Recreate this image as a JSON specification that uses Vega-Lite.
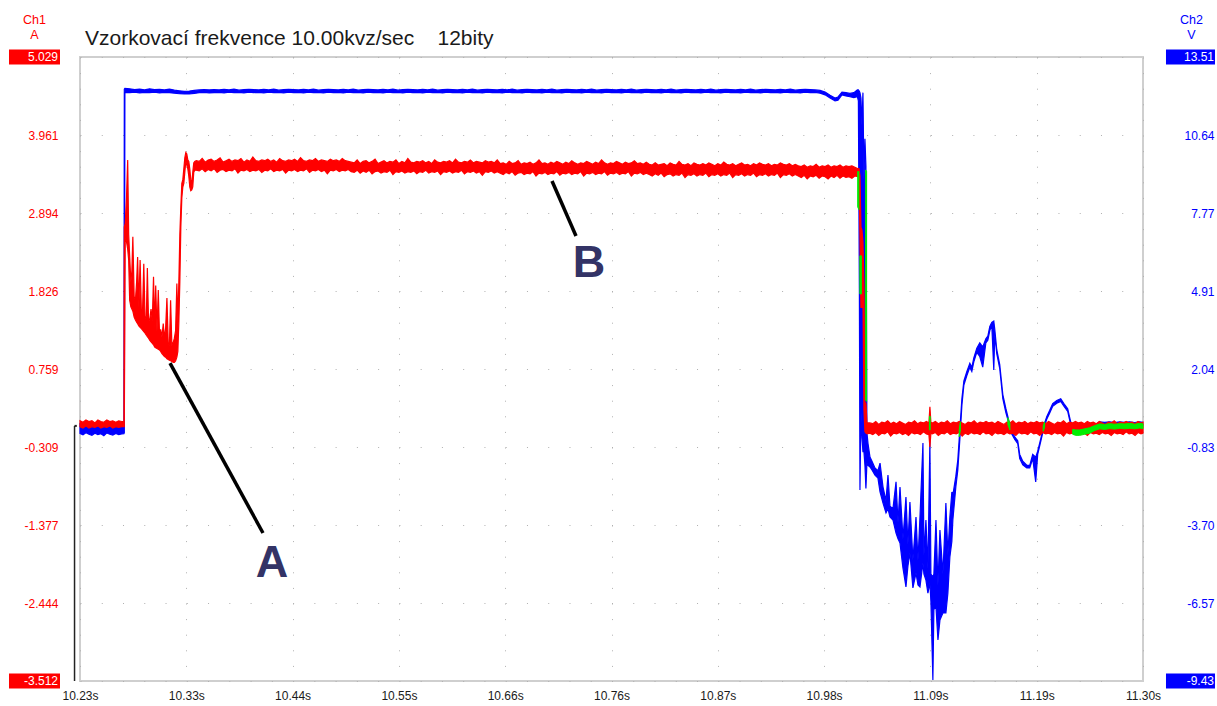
{
"$schema": "https://vega.github.io/schema/vega-lite/v6.json",
"width": 1063, "height": 624,
"autosize": {"type": "none"},
"padding": {"left": 80, "top": 57, "right": 74, "bottom": 25},
"background": "white",
"config": {"view": {"stroke": "#cfcfcf", "strokeWidth": 2}, "font": "Liberation Sans"},
"title": {"text": "Vzorkovací frekvence 10.00kvz/sec\u00a0\u00a0\u00a0\u00a012bity", "anchor": "start", "frame": "group", "font": "Liberation Sans", "fontSize": 21, "fontWeight": "normal", "color": "#1a1a1a", "baseline": "alphabetic", "offset": 0, "dx": 5, "dy": 53},
"resolve": {"scale": {"y": "independent"}},
"datasets": {
"blue": [
{"t":10.230,"lo":-0.33,"hi":0.02},{"t":10.233,"lo":-0.38,"hi":-0.02},{"t":10.236,"lo":-0.30,"hi":0.05},{"t":10.239,"lo":-0.36,"hi":0.00},{"t":10.242,"lo":-0.40,"hi":0.03},{"t":10.245,"lo":-0.32,"hi":-0.01},{"t":10.248,"lo":-0.37,"hi":0.04},{"t":10.251,"lo":-0.34,"hi":0.01},{"t":10.254,"lo":-0.41,"hi":0.02},{"t":10.257,"lo":-0.31,"hi":0.06},{"t":10.260,"lo":-0.36,"hi":-0.01},{"t":10.263,"lo":-0.39,"hi":0.03},{"t":10.266,"lo":-0.33,"hi":0.00},{"t":10.269,"lo":-0.37,"hi":0.04},{"t":10.272,"lo":-0.35,"hi":0.01},{"t":10.2742,"lo":-0.34,"hi":0.02},
{"t":10.2746,"lo":-0.30,"hi":12.33},{"t":10.2752,"lo":12.20,"hi":12.36},
{"t":10.280,"lo":12.20,"hi":12.34},{"t":10.285,"lo":12.22,"hi":12.31},{"t":10.290,"lo":12.19,"hi":12.33},{"t":10.295,"lo":12.21,"hi":12.30},{"t":10.300,"lo":12.20,"hi":12.34},{"t":10.305,"lo":12.22,"hi":12.31},{"t":10.310,"lo":12.19,"hi":12.32},{"t":10.315,"lo":12.21,"hi":12.30},{"t":10.320,"lo":12.20,"hi":12.33},{"t":10.325,"lo":12.18,"hi":12.29},{"t":10.330,"lo":12.16,"hi":12.27},{"t":10.335,"lo":12.15,"hi":12.25},{"t":10.340,"lo":12.15,"hi":12.26},{"t":10.345,"lo":12.17,"hi":12.28},{"t":10.350,"lo":12.20,"hi":12.30},{"t":10.355,"lo":12.21,"hi":12.31},{"t":10.360,"lo":12.19,"hi":12.30},
{"t":10.365,"lo":12.20,"hi":12.31},{"t":10.370,"lo":12.21,"hi":12.30},{"t":10.375,"lo":12.19,"hi":12.32},{"t":10.380,"lo":12.22,"hi":12.30},{"t":10.385,"lo":12.20,"hi":12.33},{"t":10.390,"lo":12.21,"hi":12.29},{"t":10.395,"lo":12.19,"hi":12.31},{"t":10.400,"lo":12.22,"hi":12.32},
{"t":10.405,"lo":12.20,"hi":12.31},{"t":10.410,"lo":12.21,"hi":12.30},{"t":10.415,"lo":12.19,"hi":12.32},{"t":10.420,"lo":12.22,"hi":12.30},{"t":10.425,"lo":12.20,"hi":12.33},{"t":10.430,"lo":12.21,"hi":12.29},{"t":10.435,"lo":12.19,"hi":12.31},{"t":10.440,"lo":12.22,"hi":12.32},
{"t":10.445,"lo":12.20,"hi":12.31},{"t":10.450,"lo":12.21,"hi":12.30},{"t":10.455,"lo":12.19,"hi":12.32},{"t":10.460,"lo":12.22,"hi":12.30},{"t":10.465,"lo":12.20,"hi":12.33},{"t":10.470,"lo":12.21,"hi":12.29},{"t":10.475,"lo":12.19,"hi":12.31},{"t":10.480,"lo":12.22,"hi":12.32},
{"t":10.485,"lo":12.20,"hi":12.31},{"t":10.490,"lo":12.21,"hi":12.30},{"t":10.495,"lo":12.19,"hi":12.32},{"t":10.500,"lo":12.22,"hi":12.30},{"t":10.505,"lo":12.20,"hi":12.33},{"t":10.510,"lo":12.21,"hi":12.29},{"t":10.515,"lo":12.19,"hi":12.31},{"t":10.520,"lo":12.22,"hi":12.32},
{"t":10.525,"lo":12.20,"hi":12.31},{"t":10.530,"lo":12.21,"hi":12.30},{"t":10.535,"lo":12.19,"hi":12.32},{"t":10.540,"lo":12.22,"hi":12.30},{"t":10.545,"lo":12.20,"hi":12.33},{"t":10.550,"lo":12.21,"hi":12.29},{"t":10.555,"lo":12.19,"hi":12.31},{"t":10.560,"lo":12.22,"hi":12.32},
{"t":10.565,"lo":12.20,"hi":12.31},{"t":10.570,"lo":12.21,"hi":12.30},{"t":10.575,"lo":12.19,"hi":12.32},{"t":10.580,"lo":12.22,"hi":12.30},{"t":10.585,"lo":12.20,"hi":12.33},{"t":10.590,"lo":12.21,"hi":12.29},{"t":10.595,"lo":12.19,"hi":12.31},{"t":10.600,"lo":12.22,"hi":12.32},
{"t":10.605,"lo":12.20,"hi":12.31},{"t":10.610,"lo":12.21,"hi":12.30},{"t":10.615,"lo":12.19,"hi":12.32},{"t":10.620,"lo":12.22,"hi":12.30},{"t":10.625,"lo":12.20,"hi":12.33},{"t":10.630,"lo":12.21,"hi":12.29},{"t":10.635,"lo":12.19,"hi":12.31},{"t":10.640,"lo":12.22,"hi":12.32},
{"t":10.645,"lo":12.20,"hi":12.31},{"t":10.650,"lo":12.21,"hi":12.30},{"t":10.655,"lo":12.19,"hi":12.32},{"t":10.660,"lo":12.22,"hi":12.30},{"t":10.665,"lo":12.20,"hi":12.33},{"t":10.670,"lo":12.21,"hi":12.29},{"t":10.675,"lo":12.19,"hi":12.31},{"t":10.680,"lo":12.22,"hi":12.32},
{"t":10.685,"lo":12.20,"hi":12.31},{"t":10.690,"lo":12.21,"hi":12.30},{"t":10.695,"lo":12.19,"hi":12.32},{"t":10.700,"lo":12.22,"hi":12.30},{"t":10.705,"lo":12.20,"hi":12.33},{"t":10.710,"lo":12.21,"hi":12.29},{"t":10.715,"lo":12.19,"hi":12.31},{"t":10.720,"lo":12.22,"hi":12.32},
{"t":10.725,"lo":12.20,"hi":12.31},{"t":10.730,"lo":12.21,"hi":12.30},{"t":10.735,"lo":12.19,"hi":12.32},{"t":10.740,"lo":12.22,"hi":12.30},{"t":10.745,"lo":12.20,"hi":12.33},{"t":10.750,"lo":12.21,"hi":12.29},{"t":10.755,"lo":12.19,"hi":12.31},{"t":10.760,"lo":12.22,"hi":12.32},
{"t":10.765,"lo":12.20,"hi":12.31},{"t":10.770,"lo":12.21,"hi":12.30},{"t":10.775,"lo":12.19,"hi":12.32},{"t":10.780,"lo":12.22,"hi":12.30},{"t":10.785,"lo":12.20,"hi":12.33},{"t":10.790,"lo":12.21,"hi":12.29},{"t":10.795,"lo":12.19,"hi":12.31},{"t":10.800,"lo":12.22,"hi":12.32},
{"t":10.805,"lo":12.20,"hi":12.31},{"t":10.810,"lo":12.21,"hi":12.30},{"t":10.815,"lo":12.19,"hi":12.32},{"t":10.820,"lo":12.22,"hi":12.30},{"t":10.825,"lo":12.20,"hi":12.33},{"t":10.830,"lo":12.21,"hi":12.29},{"t":10.835,"lo":12.19,"hi":12.31},{"t":10.840,"lo":12.22,"hi":12.32},
{"t":10.845,"lo":12.20,"hi":12.31},{"t":10.850,"lo":12.21,"hi":12.30},{"t":10.855,"lo":12.19,"hi":12.32},{"t":10.860,"lo":12.22,"hi":12.30},{"t":10.865,"lo":12.20,"hi":12.33},{"t":10.870,"lo":12.21,"hi":12.29},{"t":10.875,"lo":12.19,"hi":12.31},{"t":10.880,"lo":12.22,"hi":12.32},
{"t":10.885,"lo":12.20,"hi":12.31},{"t":10.890,"lo":12.21,"hi":12.30},{"t":10.895,"lo":12.19,"hi":12.32},{"t":10.900,"lo":12.22,"hi":12.30},{"t":10.905,"lo":12.20,"hi":12.33},{"t":10.910,"lo":12.21,"hi":12.29},{"t":10.915,"lo":12.19,"hi":12.31},{"t":10.920,"lo":12.22,"hi":12.32},
{"t":10.925,"lo":12.20,"hi":12.31},{"t":10.930,"lo":12.21,"hi":12.30},{"t":10.935,"lo":12.19,"hi":12.32},{"t":10.940,"lo":12.22,"hi":12.30},{"t":10.945,"lo":12.20,"hi":12.33},{"t":10.950,"lo":12.21,"hi":12.29},{"t":10.955,"lo":12.19,"hi":12.31},{"t":10.960,"lo":12.22,"hi":12.32},
{"t":10.965,"lo":12.20,"hi":12.31},{"t":10.970,"lo":12.21,"hi":12.30},
{"t":10.975,"lo":12.18,"hi":12.28},{"t":10.980,"lo":12.12,"hi":12.22},{"t":10.985,"lo":12.00,"hi":12.10},{"t":10.990,"lo":11.90,"hi":12.00},{"t":10.993,"lo":11.92,"hi":12.04},{"t":10.997,"lo":12.12,"hi":12.22},{"t":11.001,"lo":12.08,"hi":12.20},{"t":11.005,"lo":12.05,"hi":12.17},{"t":11.009,"lo":12.02,"hi":12.20},{"t":11.0125,"lo":12.05,"hi":12.30},
{"t":11.0135,"lo":11.90,"hi":12.30},{"t":11.0145,"lo":5.0,"hi":12.25},{"t":11.0151,"lo":-2.41,"hi":12.20},{"t":11.0161,"lo":0.50,"hi":12.00},{"t":11.0171,"lo":-0.50,"hi":11.00},{"t":11.0181,"lo":-1.00,"hi":12.20},{"t":11.0191,"lo":-1.00,"hi":9.00},{"t":11.0201,"lo":-1.50,"hi":10.50},{"t":11.0211,"lo":-2.35,"hi":9.50},{"t":11.0221,"lo":-1.42,"hi":-0.30},
{"t":11.0232,"lo":-1.50,"hi":-0.70},{"t":11.0252,"lo":-1.56,"hi":-1.20},{"t":11.0272,"lo":-1.67,"hi":-1.35},{"t":11.0302,"lo":-1.86,"hi":-1.60},{"t":11.0332,"lo":-1.97,"hi":-1.70},{"t":11.0353,"lo":-2.48,"hi":-1.42},{"t":11.0383,"lo":-2.89,"hi":-2.30},{"t":11.0413,"lo":-3.25,"hi":-2.80},{"t":11.0433,"lo":-3.10,"hi":-1.86},{"t":11.0453,"lo":-3.40,"hi":-3.00},{"t":11.0483,"lo":-3.51,"hi":-3.10},{"t":11.0514,"lo":-3.99,"hi":-2.11},{"t":11.0534,"lo":-4.20,"hi":-3.60},{"t":11.0554,"lo":-4.36,"hi":-2.30},{"t":11.0584,"lo":-5.28,"hi":-4.20},{"t":11.0614,"lo":-5.97,"hi":-2.67},{"t":11.0634,"lo":-5.20,"hi":-4.40},{"t":11.0654,"lo":-4.72,"hi":-2.85},{"t":11.0684,"lo":-6.01,"hi":-4.98},{"t":11.0715,"lo":-5.46,"hi":-3.40},{"t":11.0735,"lo":-5.90,"hi":-5.00},{"t":11.0755,"lo":-5.97,"hi":-3.40},{"t":11.0785,"lo":-5.09,"hi":-0.68},{"t":11.0795,"lo":-5.50,"hi":-4.80},{"t":11.0815,"lo":-5.72,"hi":-3.51},{"t":11.0835,"lo":-6.20,"hi":-5.30},{"t":11.0855,"lo":-5.83,"hi":-0.57},{"t":11.0865,"lo":-6.50,"hi":-5.50},{"t":11.0885,"lo":-9.39,"hi":-5.60},{"t":11.0895,"lo":-6.80,"hi":-5.50},{"t":11.0916,"lo":-6.71,"hi":-3.51},{"t":11.0936,"lo":-7.92,"hi":-5.90},{"t":11.0956,"lo":-7.19,"hi":-3.88},{"t":11.0986,"lo":-6.93,"hi":-5.50},{"t":11.1016,"lo":-6.93,"hi":-2.89},{"t":11.1036,"lo":-6.20,"hi":-4.80},{"t":11.1056,"lo":-4.87,"hi":-3.40},{"t":11.1076,"lo":-4.30,"hi":-2.48},{"t":11.1086,"lo":-3.51,"hi":-2.60},{"t":11.1116,"lo":-2.30,"hi":-1.90},{"t":11.1136,"lo":-1.67,"hi":-1.30},{"t":11.1156,"lo":-0.57,"hi":-0.20},
{"t":11.1177,"lo":0.70,"hi":0.95},{"t":11.1197,"lo":1.45,"hi":1.60},{"t":11.1227,"lo":1.80,"hi":1.95},{"t":11.1257,"lo":2.10,"hi":2.25},{"t":11.1277,"lo":1.95,"hi":2.10},{"t":11.1297,"lo":2.30,"hi":2.45},{"t":11.1327,"lo":2.65,"hi":2.80},{"t":11.1357,"lo":2.50,"hi":3.00},{"t":11.1387,"lo":2.11,"hi":2.85},{"t":11.1418,"lo":3.00,"hi":3.15},{"t":11.1438,"lo":3.10,"hi":3.25},{"t":11.1458,"lo":3.45,"hi":3.60},{"t":11.1478,"lo":3.65,"hi":3.75},{"t":11.1498,"lo":2.00,"hi":3.80},{"t":11.1508,"lo":3.30,"hi":3.50},{"t":11.1528,"lo":2.60,"hi":2.75},{"t":11.1558,"lo":2.05,"hi":2.20},{"t":11.1589,"lo":0.95,"hi":1.10},{"t":11.1619,"lo":0.45,"hi":0.60},{"t":11.1649,"lo":0.05,"hi":0.15},{"t":11.1679,"lo":-0.35,"hi":-0.25},{"t":11.1709,"lo":-0.55,"hi":-0.45},{"t":11.1739,"lo":-0.70,"hi":-0.60},{"t":11.1759,"lo":-1.25,"hi":-1.10},{"t":11.1790,"lo":-1.48,"hi":-1.35},{"t":11.1830,"lo":-1.60,"hi":-1.50},{"t":11.1860,"lo":-1.60,"hi":-1.50},{"t":11.1890,"lo":-1.25,"hi":-1.10},{"t":11.1920,"lo":-2.11,"hi":-1.20},{"t":11.1940,"lo":-1.10,"hi":-0.98},{"t":11.1971,"lo":-0.62,"hi":-0.52},{"t":11.2001,"lo":-0.14,"hi":-0.04},{"t":11.2031,"lo":0.19,"hi":0.29},{"t":11.2061,"lo":0.42,"hi":0.52},{"t":11.2091,"lo":0.67,"hi":0.77},{"t":11.2132,"lo":0.78,"hi":0.88},{"t":11.2172,"lo":0.85,"hi":0.95},{"t":11.2202,"lo":0.68,"hi":0.78},{"t":11.2242,"lo":0.48,"hi":0.58},{"t":11.2272,"lo":0.00,"hi":0.10},{"t":11.2292,"lo":-0.26,"hi":-0.16},{"t":11.2323,"lo":-0.36,"hi":-0.26},{"t":11.2363,"lo":-0.36,"hi":-0.26},{"t":11.2413,"lo":-0.28,"hi":-0.18},{"t":11.2463,"lo":-0.25,"hi":-0.15},{"t":11.2514,"lo":-0.14,"hi":-0.04},{"t":11.2564,"lo":0.00,"hi":0.10},{"t":11.2614,"lo":-0.02,"hi":0.08},{"t":11.2664,"lo":0.00,"hi":0.10},{"t":11.2715,"lo":-0.03,"hi":0.07},{"t":11.2765,"lo":0.00,"hi":0.10},{"t":11.2815,"lo":-0.02,"hi":0.08},{"t":11.2866,"lo":0.00,"hi":0.10},{"t":11.2916,"lo":-0.03,"hi":0.07},{"t":11.2966,"lo":0.00,"hi":0.10},{"t":11.2996,"lo":-0.02,"hi":0.08}
],
"red": [
{"t":10.230,"lo":-0.03,"hi":0.05},{"t":10.233,"lo":-0.05,"hi":0.03},{"t":10.236,"lo":-0.02,"hi":0.06},{"t":10.239,"lo":-0.05,"hi":0.04},{"t":10.242,"lo":-0.03,"hi":0.05},{"t":10.245,"lo":-0.04,"hi":0.02},{"t":10.248,"lo":-0.02,"hi":0.06},{"t":10.251,"lo":-0.05,"hi":0.04},{"t":10.254,"lo":-0.03,"hi":0.03},{"t":10.257,"lo":-0.04,"hi":0.06},{"t":10.260,"lo":-0.02,"hi":0.04},{"t":10.263,"lo":-0.05,"hi":0.05},{"t":10.266,"lo":-0.03,"hi":0.03},{"t":10.269,"lo":-0.04,"hi":0.05},{"t":10.272,"lo":-0.03,"hi":0.04},{"t":10.2742,"lo":-0.03,"hi":0.04},
{"t":10.2746,"lo":-0.03,"hi":2.70},{"t":10.2755,"lo":2.55,"hi":2.75},{"t":10.2768,"lo":2.50,"hi":3.10},{"t":10.2780,"lo":2.40,"hi":3.62},{"t":10.2790,"lo":2.25,"hi":2.60},{"t":10.2800,"lo":1.70,"hi":2.30},{"t":10.2812,"lo":1.61,"hi":1.95},{"t":10.2822,"lo":1.58,"hi":2.10},{"t":10.2832,"lo":1.55,"hi":2.57},{"t":10.2845,"lo":1.47,"hi":1.75},{"t":10.2858,"lo":1.43,"hi":1.70},{"t":10.2870,"lo":1.40,"hi":1.95},{"t":10.2880,"lo":1.38,"hi":2.29},{"t":10.2892,"lo":1.35,"hi":1.60},{"t":10.2905,"lo":1.33,"hi":2.25},{"t":10.2918,"lo":1.31,"hi":1.55},{"t":10.2930,"lo":1.29,"hi":1.58},{"t":10.2942,"lo":1.27,"hi":2.20},{"t":10.2955,"lo":1.25,"hi":1.45},{"t":10.2968,"lo":1.22,"hi":1.48},{"t":10.2978,"lo":1.20,"hi":2.14},{"t":10.2990,"lo":1.18,"hi":1.40},{"t":10.3003,"lo":1.15,"hi":1.45},{"t":10.3015,"lo":1.13,"hi":1.58},{"t":10.3028,"lo":1.11,"hi":1.42},{"t":10.3040,"lo":1.09,"hi":2.02},{"t":10.3052,"lo":1.06,"hi":1.32},{"t":10.3062,"lo":1.05,"hi":1.90},{"t":10.3075,"lo":1.04,"hi":1.28},{"t":10.3088,"lo":1.03,"hi":1.84},{"t":10.3100,"lo":1.02,"hi":1.25},{"t":10.3112,"lo":1.00,"hi":1.30},{"t":10.3125,"lo":0.97,"hi":1.20},{"t":10.3138,"lo":0.95,"hi":1.38},{"t":10.3150,"lo":0.93,"hi":1.18},{"t":10.3162,"lo":0.92,"hi":1.32},{"t":10.3175,"lo":0.90,"hi":1.73},{"t":10.3188,"lo":0.89,"hi":1.12},{"t":10.3200,"lo":0.88,"hi":1.08},{"t":10.3212,"lo":0.87,"hi":1.70},{"t":10.3225,"lo":0.86,"hi":1.08},{"t":10.3238,"lo":0.85,"hi":1.12},{"t":10.3250,"lo":0.85,"hi":1.18},{"t":10.3262,"lo":0.87,"hi":1.28},{"t":10.3275,"lo":0.92,"hi":1.93},{"t":10.3285,"lo":1.00,"hi":1.40},{"t":10.3295,"lo":1.40,"hi":1.95},{"t":10.3305,"lo":1.95,"hi":2.60},{"t":10.3315,"lo":2.70,"hi":2.98},{"t":10.3325,"lo":3.10,"hi":3.30},{"t":10.3335,"lo":3.25,"hi":3.35},{"t":10.3345,"lo":3.30,"hi":3.50},{"t":10.3355,"lo":3.45,"hi":3.65},{"t":10.3365,"lo":3.60,"hi":3.72},{"t":10.3375,"lo":3.55,"hi":3.70},{"t":10.3385,"lo":3.50,"hi":3.62},{"t":10.3395,"lo":3.40,"hi":3.60},{"t":10.3405,"lo":3.25,"hi":3.50},{"t":10.3415,"lo":3.20,"hi":3.35},{"t":10.3425,"lo":3.21,"hi":3.30},{"t":10.3435,"lo":3.25,"hi":3.45},{"t":10.3445,"lo":3.45,"hi":3.58},{"t":10.3455,"lo":3.48,"hi":3.60},
{"t":10.347,"lo":3.48,"hi":3.61},{"t":10.350,"lo":3.47,"hi":3.60},{"t":10.353,"lo":3.50,"hi":3.64},{"t":10.356,"lo":3.46,"hi":3.59},{"t":10.359,"lo":3.49,"hi":3.62},{"t":10.362,"lo":3.47,"hi":3.63},{"t":10.365,"lo":3.50,"hi":3.60},{"t":10.368,"lo":3.45,"hi":3.62},{"t":10.371,"lo":3.48,"hi":3.65},{"t":10.374,"lo":3.49,"hi":3.59},{"t":10.377,"lo":3.46,"hi":3.61},{"t":10.380,"lo":3.48,"hi":3.63},{"t":10.383,"lo":3.47,"hi":3.60},{"t":10.386,"lo":3.50,"hi":3.62},{"t":10.389,"lo":3.44,"hi":3.61},{"t":10.392,"lo":3.48,"hi":3.64},{"t":10.395,"lo":3.47,"hi":3.59},{"t":10.398,"lo":3.49,"hi":3.62},{"t":10.401,"lo":3.46,"hi":3.60},{"t":10.404,"lo":3.48,"hi":3.66},{"t":10.407,"lo":3.47,"hi":3.61},{"t":10.410,"lo":3.49,"hi":3.60},{"t":10.413,"lo":3.45,"hi":3.62},{"t":10.416,"lo":3.48,"hi":3.61},{"t":10.419,"lo":3.47,"hi":3.63},{"t":10.422,"lo":3.50,"hi":3.60},{"t":10.425,"lo":3.46,"hi":3.62},{"t":10.428,"lo":3.48,"hi":3.59},{"t":10.431,"lo":3.47,"hi":3.64},{"t":10.434,"lo":3.49,"hi":3.61},{"t":10.437,"lo":3.44,"hi":3.60},{"t":10.440,"lo":3.48,"hi":3.62},{"t":10.443,"lo":3.47,"hi":3.61},{"t":10.446,"lo":3.49,"hi":3.63},{"t":10.449,"lo":3.46,"hi":3.60},{"t":10.452,"lo":3.48,"hi":3.65},{"t":10.455,"lo":3.47,"hi":3.61},{"t":10.458,"lo":3.50,"hi":3.60},{"t":10.461,"lo":3.45,"hi":3.62},{"t":10.464,"lo":3.48,"hi":3.61},{"t":10.467,"lo":3.47,"hi":3.64},{"t":10.470,"lo":3.49,"hi":3.60},{"t":10.473,"lo":3.46,"hi":3.62},{"t":10.476,"lo":3.48,"hi":3.61},{"t":10.479,"lo":3.43,"hi":3.60},{"t":10.482,"lo":3.48,"hi":3.63},{"t":10.485,"lo":3.47,"hi":3.61},{"t":10.488,"lo":3.49,"hi":3.62},{"t":10.491,"lo":3.46,"hi":3.60},{"t":10.494,"lo":3.48,"hi":3.64},{"t":10.497,"lo":3.47,"hi":3.61},{"t":10.500,"lo":3.49,"hi":3.60},
{"t":10.503,"lo":3.46,"hi":3.59},{"t":10.506,"lo":3.45,"hi":3.58},{"t":10.509,"lo":3.48,"hi":3.62},{"t":10.512,"lo":3.44,"hi":3.57},{"t":10.515,"lo":3.47,"hi":3.60},{"t":10.518,"lo":3.45,"hi":3.61},{"t":10.521,"lo":3.48,"hi":3.58},{"t":10.524,"lo":3.43,"hi":3.60},{"t":10.527,"lo":3.46,"hi":3.63},{"t":10.530,"lo":3.47,"hi":3.57},{"t":10.533,"lo":3.44,"hi":3.59},{"t":10.536,"lo":3.46,"hi":3.61},{"t":10.539,"lo":3.45,"hi":3.58},{"t":10.542,"lo":3.48,"hi":3.60},{"t":10.545,"lo":3.42,"hi":3.59},{"t":10.548,"lo":3.46,"hi":3.62},{"t":10.551,"lo":3.45,"hi":3.57},{"t":10.554,"lo":3.47,"hi":3.60},{"t":10.557,"lo":3.44,"hi":3.58},{"t":10.560,"lo":3.46,"hi":3.64},{"t":10.563,"lo":3.45,"hi":3.59},{"t":10.566,"lo":3.47,"hi":3.58},{"t":10.569,"lo":3.43,"hi":3.60},{"t":10.572,"lo":3.46,"hi":3.59},{"t":10.575,"lo":3.45,"hi":3.61},{"t":10.578,"lo":3.48,"hi":3.58},{"t":10.581,"lo":3.44,"hi":3.60},{"t":10.584,"lo":3.46,"hi":3.57},{"t":10.587,"lo":3.45,"hi":3.62},{"t":10.590,"lo":3.47,"hi":3.59},{"t":10.593,"lo":3.42,"hi":3.58},{"t":10.596,"lo":3.46,"hi":3.60},{"t":10.599,"lo":3.45,"hi":3.59},{"t":10.602,"lo":3.47,"hi":3.61},{"t":10.605,"lo":3.44,"hi":3.58},{"t":10.608,"lo":3.46,"hi":3.63},{"t":10.611,"lo":3.45,"hi":3.59},{"t":10.614,"lo":3.48,"hi":3.58},{"t":10.617,"lo":3.43,"hi":3.60},{"t":10.620,"lo":3.46,"hi":3.59},{"t":10.623,"lo":3.45,"hi":3.62},{"t":10.626,"lo":3.47,"hi":3.58},{"t":10.629,"lo":3.44,"hi":3.60},{"t":10.632,"lo":3.46,"hi":3.59},{"t":10.635,"lo":3.41,"hi":3.58},{"t":10.638,"lo":3.46,"hi":3.61},{"t":10.641,"lo":3.45,"hi":3.59},{"t":10.644,"lo":3.47,"hi":3.60},{"t":10.647,"lo":3.44,"hi":3.58},{"t":10.650,"lo":3.46,"hi":3.62},
{"t":10.653,"lo":3.44,"hi":3.57},{"t":10.656,"lo":3.42,"hi":3.58},{"t":10.659,"lo":3.45,"hi":3.56},{"t":10.662,"lo":3.43,"hi":3.60},{"t":10.665,"lo":3.46,"hi":3.57},{"t":10.668,"lo":3.41,"hi":3.58},{"t":10.671,"lo":3.44,"hi":3.61},{"t":10.674,"lo":3.45,"hi":3.56},{"t":10.677,"lo":3.42,"hi":3.58},{"t":10.680,"lo":3.44,"hi":3.57},{"t":10.683,"lo":3.43,"hi":3.59},{"t":10.686,"lo":3.46,"hi":3.56},{"t":10.689,"lo":3.40,"hi":3.58},{"t":10.692,"lo":3.44,"hi":3.62},{"t":10.695,"lo":3.43,"hi":3.57},{"t":10.698,"lo":3.45,"hi":3.58},{"t":10.701,"lo":3.42,"hi":3.56},{"t":10.704,"lo":3.44,"hi":3.59},{"t":10.707,"lo":3.43,"hi":3.57},{"t":10.710,"lo":3.46,"hi":3.60},{"t":10.713,"lo":3.41,"hi":3.58},{"t":10.716,"lo":3.44,"hi":3.56},{"t":10.719,"lo":3.43,"hi":3.59},{"t":10.722,"lo":3.45,"hi":3.57},{"t":10.725,"lo":3.42,"hi":3.61},{"t":10.728,"lo":3.44,"hi":3.58},{"t":10.731,"lo":3.43,"hi":3.56},{"t":10.734,"lo":3.46,"hi":3.58},{"t":10.737,"lo":3.40,"hi":3.57},{"t":10.740,"lo":3.44,"hi":3.60},{"t":10.743,"lo":3.43,"hi":3.58},{"t":10.746,"lo":3.45,"hi":3.56},{"t":10.749,"lo":3.42,"hi":3.59},{"t":10.752,"lo":3.44,"hi":3.57},{"t":10.755,"lo":3.43,"hi":3.62},{"t":10.758,"lo":3.46,"hi":3.58},{"t":10.761,"lo":3.41,"hi":3.56},{"t":10.764,"lo":3.44,"hi":3.58},{"t":10.767,"lo":3.43,"hi":3.57},{"t":10.770,"lo":3.45,"hi":3.60},{"t":10.773,"lo":3.42,"hi":3.58},{"t":10.776,"lo":3.44,"hi":3.56},{"t":10.779,"lo":3.43,"hi":3.59},{"t":10.782,"lo":3.46,"hi":3.57},{"t":10.785,"lo":3.40,"hi":3.58},{"t":10.788,"lo":3.44,"hi":3.61},{"t":10.791,"lo":3.43,"hi":3.57},{"t":10.794,"lo":3.45,"hi":3.58},{"t":10.797,"lo":3.42,"hi":3.56},{"t":10.800,"lo":3.44,"hi":3.59},
{"t":10.803,"lo":3.42,"hi":3.56},{"t":10.806,"lo":3.40,"hi":3.55},{"t":10.809,"lo":3.43,"hi":3.58},{"t":10.812,"lo":3.41,"hi":3.55},{"t":10.815,"lo":3.44,"hi":3.56},{"t":10.818,"lo":3.39,"hi":3.57},{"t":10.821,"lo":3.42,"hi":3.54},{"t":10.824,"lo":3.43,"hi":3.58},{"t":10.827,"lo":3.40,"hi":3.56},{"t":10.830,"lo":3.42,"hi":3.55},{"t":10.833,"lo":3.41,"hi":3.60},{"t":10.836,"lo":3.44,"hi":3.56},{"t":10.839,"lo":3.38,"hi":3.55},{"t":10.842,"lo":3.42,"hi":3.57},{"t":10.845,"lo":3.41,"hi":3.54},{"t":10.848,"lo":3.43,"hi":3.58},{"t":10.851,"lo":3.40,"hi":3.56},{"t":10.854,"lo":3.42,"hi":3.55},{"t":10.857,"lo":3.41,"hi":3.57},{"t":10.860,"lo":3.44,"hi":3.55},{"t":10.863,"lo":3.39,"hi":3.58},{"t":10.866,"lo":3.42,"hi":3.56},{"t":10.869,"lo":3.41,"hi":3.54},{"t":10.872,"lo":3.43,"hi":3.57},{"t":10.875,"lo":3.40,"hi":3.55},{"t":10.878,"lo":3.42,"hi":3.59},{"t":10.881,"lo":3.41,"hi":3.56},{"t":10.884,"lo":3.44,"hi":3.55},{"t":10.887,"lo":3.38,"hi":3.57},{"t":10.890,"lo":3.42,"hi":3.54},{"t":10.893,"lo":3.41,"hi":3.56},{"t":10.896,"lo":3.43,"hi":3.58},{"t":10.899,"lo":3.40,"hi":3.55},{"t":10.902,"lo":3.42,"hi":3.56},{"t":10.905,"lo":3.41,"hi":3.54},{"t":10.908,"lo":3.44,"hi":3.57},{"t":10.911,"lo":3.39,"hi":3.55},{"t":10.914,"lo":3.42,"hi":3.58},{"t":10.917,"lo":3.41,"hi":3.56},{"t":10.920,"lo":3.43,"hi":3.55},{"t":10.923,"lo":3.40,"hi":3.57},{"t":10.926,"lo":3.42,"hi":3.54},{"t":10.929,"lo":3.41,"hi":3.56},{"t":10.932,"lo":3.44,"hi":3.55},{"t":10.935,"lo":3.38,"hi":3.58},{"t":10.938,"lo":3.42,"hi":3.56},{"t":10.941,"lo":3.41,"hi":3.55},{"t":10.944,"lo":3.43,"hi":3.57},{"t":10.947,"lo":3.40,"hi":3.54},{"t":10.950,"lo":3.42,"hi":3.56},
{"t":10.953,"lo":3.40,"hi":3.54},{"t":10.956,"lo":3.38,"hi":3.53},{"t":10.959,"lo":3.41,"hi":3.55},{"t":10.962,"lo":3.36,"hi":3.52},{"t":10.965,"lo":3.40,"hi":3.54},{"t":10.968,"lo":3.39,"hi":3.53},{"t":10.971,"lo":3.41,"hi":3.56},{"t":10.974,"lo":3.37,"hi":3.52},{"t":10.977,"lo":3.40,"hi":3.54},{"t":10.980,"lo":3.39,"hi":3.53},{"t":10.983,"lo":3.36,"hi":3.55},{"t":10.986,"lo":3.40,"hi":3.52},{"t":10.989,"lo":3.38,"hi":3.54},{"t":10.992,"lo":3.41,"hi":3.53},{"t":10.995,"lo":3.37,"hi":3.55},{"t":10.998,"lo":3.40,"hi":3.52},{"t":11.001,"lo":3.38,"hi":3.54},{"t":11.004,"lo":3.39,"hi":3.53},{"t":11.007,"lo":3.37,"hi":3.54},{"t":11.010,"lo":3.40,"hi":3.52},{"t":11.0131,"lo":3.39,"hi":3.50},
{"t":11.0141,"lo":3.38,"hi":3.50},{"t":11.0151,"lo":2.60,"hi":3.40},{"t":11.0161,"lo":1.60,"hi":2.70},{"t":11.0171,"lo":1.60,"hi":2.66},{"t":11.0181,"lo":1.80,"hi":2.50},{"t":11.0191,"lo":0.20,"hi":1.90},{"t":11.0201,"lo":-0.10,"hi":0.30},{"t":11.0211,"lo":-0.12,"hi":0.29},{"t":11.0222,"lo":-0.13,"hi":0.02},
{"t":11.025,"lo":-0.12,"hi":0.02},{"t":11.028,"lo":-0.14,"hi":0.01},{"t":11.031,"lo":-0.11,"hi":0.04},{"t":11.034,"lo":-0.15,"hi":0.00},{"t":11.037,"lo":-0.12,"hi":0.03},{"t":11.040,"lo":-0.13,"hi":0.02},{"t":11.043,"lo":-0.10,"hi":0.05},{"t":11.046,"lo":-0.16,"hi":0.01},{"t":11.049,"lo":-0.12,"hi":0.03},{"t":11.052,"lo":-0.13,"hi":0.01},{"t":11.055,"lo":-0.11,"hi":0.04},{"t":11.058,"lo":-0.14,"hi":0.02},{"t":11.061,"lo":-0.12,"hi":0.00},{"t":11.064,"lo":-0.15,"hi":0.03},{"t":11.067,"lo":-0.11,"hi":0.02},{"t":11.070,"lo":-0.13,"hi":0.05},{"t":11.073,"lo":-0.12,"hi":0.01},{"t":11.076,"lo":-0.14,"hi":0.03},{"t":11.079,"lo":-0.10,"hi":0.02},{"t":11.082,"lo":-0.13,"hi":0.04},{"t":11.0845,"lo":-0.14,"hi":0.02},{"t":11.0855,"lo":-0.31,"hi":0.24},{"t":11.0865,"lo":-0.12,"hi":0.03},{"t":11.088,"lo":-0.13,"hi":0.02},{"t":11.091,"lo":-0.11,"hi":0.04},{"t":11.094,"lo":-0.15,"hi":0.01},{"t":11.097,"lo":-0.12,"hi":0.03},{"t":11.100,"lo":-0.13,"hi":0.02},{"t":11.103,"lo":-0.10,"hi":0.05},{"t":11.106,"lo":-0.14,"hi":0.01},{"t":11.109,"lo":-0.12,"hi":0.03},{"t":11.112,"lo":-0.13,"hi":0.02},{"t":11.115,"lo":-0.11,"hi":0.04},{"t":11.118,"lo":-0.16,"hi":0.02},{"t":11.121,"lo":-0.12,"hi":0.00},{"t":11.124,"lo":-0.14,"hi":0.03},{"t":11.127,"lo":-0.11,"hi":0.02},{"t":11.130,"lo":-0.13,"hi":0.05},{"t":11.133,"lo":-0.12,"hi":0.01},{"t":11.136,"lo":-0.14,"hi":0.03},{"t":11.139,"lo":-0.10,"hi":0.02},{"t":11.142,"lo":-0.13,"hi":0.04},{"t":11.145,"lo":-0.12,"hi":0.02},{"t":11.148,"lo":-0.15,"hi":0.03},{"t":11.151,"lo":-0.11,"hi":0.01},{"t":11.154,"lo":-0.13,"hi":0.04},{"t":11.157,"lo":-0.12,"hi":0.02},{"t":11.160,"lo":-0.14,"hi":0.00},{"t":11.163,"lo":-0.11,"hi":0.03},{"t":11.166,"lo":-0.13,"hi":0.02},{"t":11.169,"lo":-0.12,"hi":0.05},{"t":11.172,"lo":-0.15,"hi":0.01},{"t":11.175,"lo":-0.11,"hi":0.03},{"t":11.178,"lo":-0.13,"hi":0.02},{"t":11.181,"lo":-0.12,"hi":0.04},{"t":11.184,"lo":-0.14,"hi":0.01},{"t":11.187,"lo":-0.10,"hi":0.03},{"t":11.190,"lo":-0.13,"hi":0.02},{"t":11.193,"lo":-0.12,"hi":0.04},{"t":11.196,"lo":-0.15,"hi":0.02},{"t":11.199,"lo":-0.11,"hi":0.03},{"t":11.202,"lo":-0.13,"hi":0.01},{"t":11.205,"lo":-0.12,"hi":0.04},{"t":11.208,"lo":-0.14,"hi":0.02},{"t":11.211,"lo":-0.11,"hi":0.00},{"t":11.214,"lo":-0.13,"hi":0.03},{"t":11.217,"lo":-0.12,"hi":0.02},{"t":11.220,"lo":-0.16,"hi":0.05},{"t":11.223,"lo":-0.11,"hi":0.01},{"t":11.226,"lo":-0.13,"hi":0.03},{"t":11.229,"lo":-0.12,"hi":0.02},{"t":11.232,"lo":-0.14,"hi":0.04},{"t":11.235,"lo":-0.10,"hi":0.02},{"t":11.238,"lo":-0.13,"hi":0.03},{"t":11.241,"lo":-0.12,"hi":0.01},{"t":11.244,"lo":-0.15,"hi":0.04},{"t":11.247,"lo":-0.11,"hi":0.02},{"t":11.250,"lo":-0.13,"hi":0.03},{"t":11.253,"lo":-0.12,"hi":0.01},{"t":11.256,"lo":-0.14,"hi":0.04},{"t":11.259,"lo":-0.11,"hi":0.02},{"t":11.262,"lo":-0.13,"hi":0.00},{"t":11.265,"lo":-0.12,"hi":0.03},{"t":11.268,"lo":-0.15,"hi":0.02},{"t":11.271,"lo":-0.11,"hi":0.05},{"t":11.274,"lo":-0.13,"hi":0.01},{"t":11.277,"lo":-0.12,"hi":0.03},{"t":11.280,"lo":-0.14,"hi":0.02},{"t":11.283,"lo":-0.10,"hi":0.04},{"t":11.286,"lo":-0.13,"hi":0.02},{"t":11.289,"lo":-0.12,"hi":0.03},{"t":11.292,"lo":-0.15,"hi":0.01},{"t":11.295,"lo":-0.11,"hi":0.04},{"t":11.298,"lo":-0.13,"hi":0.02},{"t":11.300,"lo":-0.12,"hi":0.03}
],
"green": [
{"t":11.0128,"lo":8.0,"hi":9.3,"s":1},{"t":11.0140,"lo":7.9,"hi":9.3,"s":1},
{"t":11.0150,"lo":4.8,"hi":6.2,"s":2},{"t":11.0165,"lo":4.8,"hi":6.2,"s":2},
{"t":11.0208,"lo":0.9,"hi":9.36,"s":3},{"t":11.0218,"lo":0.85,"hi":9.3,"s":3},
{"t":11.0850,"lo":-0.2,"hi":0.3,"s":5},{"t":11.0858,"lo":-0.2,"hi":0.3,"s":5},
{"t":11.1150,"lo":-0.45,"hi":-0.2,"s":6},{"t":11.1162,"lo":-0.2,"hi":0.1,"s":6},
{"t":11.1640,"lo":0.0,"hi":0.25,"s":7},{"t":11.1660,"lo":-0.2,"hi":0.05,"s":7},
{"t":11.1995,"lo":-0.25,"hi":-0.05,"s":8},{"t":11.2010,"lo":-0.1,"hi":0.1,"s":8},
{"t":11.2292,"lo":-0.36,"hi":-0.18,"s":4},{"t":11.2323,"lo":-0.40,"hi":-0.20,"s":4},{"t":11.2363,"lo":-0.40,"hi":-0.20,"s":4},{"t":11.2413,"lo":-0.36,"hi":-0.16,"s":4},{"t":11.2463,"lo":-0.32,"hi":-0.12,"s":4},{"t":11.2514,"lo":-0.22,"hi":-0.04,"s":4},{"t":11.2564,"lo":-0.16,"hi":0.02,"s":4},{"t":11.2614,"lo":-0.18,"hi":0.00,"s":4},{"t":11.2664,"lo":-0.15,"hi":0.03,"s":4},{"t":11.2715,"lo":-0.17,"hi":0.01,"s":4},{"t":11.2765,"lo":-0.14,"hi":0.03,"s":4},{"t":11.2815,"lo":-0.16,"hi":0.02,"s":4},{"t":11.2866,"lo":-0.14,"hi":0.04,"s":4},{"t":11.2916,"lo":-0.16,"hi":0.01,"s":4},{"t":11.2966,"lo":-0.13,"hi":0.04,"s":4},{"t":11.300,"lo":-0.15,"hi":0.02,"s":4}
],
"notes": [
{"t1":10.3206,"a1":0.84,"t2":10.4142,"a2":-1.486,"tl":10.4233,"al":-2.089,"lab":"A"},
{"t1":10.7051,"a1":3.332,"t2":10.7293,"a2":2.579,"tl":10.7424,"al":2.018,"lab":"B"}
],
"leftEnds": [{"v":5.029,"txt":"5.029"},{"v":-3.512,"txt":"-3.512"}],
"rightEnds": [{"v":13.51,"txt":"13.51"},{"v":-9.43,"txt":"-9.43"}],
"one": [{"k":1}]
},
"layer": [
{"data": {"name": "blue"},
 "mark": {"type": "area", "color": "#0000ff", "stroke": "#0000ff", "strokeWidth": 1.2, "opacity": 1},
 "encoding": {
  "x": {"field": "t", "type": "quantitative", "scale": {"domain": [10.23, 11.3], "nice": false, "zero": false},
        "axis": {"orient": "bottom", "values": [10.23,10.337,10.444,10.551,10.658,10.765,10.872,10.979,11.086,11.193,11.3],
                 "labelExpr": "['10.23s','10.33s','10.44s','10.55s','10.66s','10.76s','10.87s','10.98s','11.09s','11.19s','11.30s'][round((datum.value-10.23)/0.107)]",
                 "grid": true, "gridDash": [1, 14.6], "gridColor": "#b0b0b0", "domain": false, "ticks": false,
                 "labelFont": "Liberation Sans", "labelFontSize": 12, "labelColor": "#1a1a1a", "labelPadding": 9,
                 "title": null, "labelOverlap": false, "labelFlush": false, "labelBound": false}},
  "y": {"field": "lo", "type": "quantitative", "scale": {"domain": [-9.43, 13.51], "nice": false, "zero": false},
        "axis": {"orient": "right", "values": [-9.43,-6.5625,-3.695,-0.8275,2.04,4.9075,7.775,10.6425,13.51],
                 "labelExpr": "['','-6.57','-3.70','-0.83','2.04','4.91','7.77','10.64',''][round((datum.value+9.43)/2.8675)]",
                 "grid": false, "domain": false, "ticks": false, "labelColor": "#0000ff", "labelFont": "Liberation Sans", "labelFontSize": 12,
                 "labelAlign": "right", "labelPadding": 71, "labelBaseline": "middle", "labelOverlap": false, "labelFlush": false, "labelBound": false,
                 "title": ["Ch2", "V"], "titleAngle": 0, "titleX": 48, "titleY": -34, "titleAlign": "center", "titleBaseline": "alphabetic",
                 "titleColor": "#0000ff", "titleFont": "Liberation Sans", "titleFontSize": 12.5, "titleFontWeight": "normal", "titleLineHeight": 15}},
  "y2": {"field": "hi"}
 }},
{"data": {"name": "red"},
 "mark": {"type": "area", "color": "#ff0000", "stroke": "#ff0000", "strokeWidth": 1.2, "opacity": 1},
 "encoding": {
  "x": {"field": "t", "type": "quantitative", "title": null, "scale": {"domain": [10.23, 11.3], "nice": false, "zero": false}},
  "y": {"field": "lo", "type": "quantitative", "scale": {"domain": [-3.512, 5.029], "nice": false, "zero": false},
        "axis": {"orient": "left", "values": [-3.512,-2.444375,-1.37675,-0.309125,0.7585,1.826125,2.89375,3.961375,5.029],
                 "labelExpr": "['','-2.444','-1.377','-0.309','0.759','1.826','2.894','3.961',''][round((datum.value+3.512)/1.067625)]",
                 "grid": true, "gridDash": [1, 20.26], "gridColor": "#b0b0b0", "domain": false, "ticks": false,
                 "labelColor": "#ff0000", "labelFont": "Liberation Sans", "labelFontSize": 12, "labelPadding": 22, "labelBaseline": "middle",
                 "labelOverlap": false, "labelFlush": false, "labelBound": false,
                 "title": ["Ch1", "A"], "titleAngle": 0, "titleX": -46, "titleY": -34, "titleAlign": "center", "titleBaseline": "alphabetic",
                 "titleColor": "#ff0000", "titleFont": "Liberation Sans", "titleFontSize": 12.5, "titleFontWeight": "normal", "titleLineHeight": 15}},
  "y2": {"field": "hi"}
 }},
{"data": {"name": "green"},
 "mark": {"type": "area", "color": "#00ee00", "stroke": "#00ee00", "strokeWidth": 1, "opacity": 1},
 "encoding": {
  "x": {"field": "t", "type": "quantitative", "title": null, "scale": {"domain": [10.23, 11.3], "nice": false, "zero": false}},
  "y": {"field": "lo", "type": "quantitative", "scale": {"domain": [-9.43, 13.51], "nice": false, "zero": false}, "axis": null},
  "y2": {"field": "hi"},
  "detail": {"field": "s", "type": "nominal"}
 }},
{"data": {"name": "notes"},
 "mark": {"type": "rule", "color": "#000000", "strokeWidth": 3.5},
 "encoding": {
  "x": {"field": "t1", "type": "quantitative", "title": null, "scale": {"domain": [10.23, 11.3], "nice": false, "zero": false}},
  "y": {"field": "a1", "type": "quantitative", "scale": {"domain": [-3.512, 5.029], "nice": false, "zero": false}, "axis": null},
  "x2": {"field": "t2"},
  "y2": {"field": "a2"}
 }},
{"data": {"name": "notes"},
 "mark": {"type": "text", "font": "Liberation Sans", "fontWeight": "bold", "fontSize": 45, "color": "#333366", "align": "center", "baseline": "alphabetic"},
 "encoding": {
  "x": {"field": "tl", "type": "quantitative", "title": null, "scale": {"domain": [10.23, 11.3], "nice": false, "zero": false}},
  "y": {"field": "al", "type": "quantitative", "scale": {"domain": [-3.512, 5.029], "nice": false, "zero": false}, "axis": null},
  "text": {"field": "lab"}
 }},
{"data": {"name": "leftEnds"},
 "mark": {"type": "tick", "orient": "horizontal", "size": 51, "thickness": 15, "color": "#ff0000", "opacity": 1},
 "encoding": {
  "x": {"datum": 10.1842, "type": "quantitative", "title": null, "scale": {"domain": [10.23, 11.3], "nice": false, "zero": false}},
  "y": {"field": "v", "type": "quantitative", "scale": {"domain": [-3.512, 5.029], "nice": false, "zero": false}, "axis": null}
 }},
{"data": {"name": "leftEnds"},
 "mark": {"type": "text", "align": "right", "baseline": "middle", "color": "#ffffff", "font": "Liberation Sans", "fontSize": 12},
 "encoding": {
  "x": {"datum": 10.2079, "type": "quantitative", "title": null, "scale": {"domain": [10.23, 11.3], "nice": false, "zero": false}},
  "y": {"field": "v", "type": "quantitative", "scale": {"domain": [-3.512, 5.029], "nice": false, "zero": false}, "axis": null},
  "text": {"field": "txt"}
 }},
{"data": {"name": "rightEnds"},
 "mark": {"type": "tick", "orient": "horizontal", "size": 49, "thickness": 15, "color": "#0000ff", "opacity": 1},
 "encoding": {
  "x": {"datum": 11.3478, "type": "quantitative", "title": null, "scale": {"domain": [10.23, 11.3], "nice": false, "zero": false}},
  "y": {"field": "v", "type": "quantitative", "scale": {"domain": [-9.43, 13.51], "nice": false, "zero": false}, "axis": null}
 }},
{"data": {"name": "rightEnds"},
 "mark": {"type": "text", "align": "right", "baseline": "middle", "color": "#ffffff", "font": "Liberation Sans", "fontSize": 12},
 "encoding": {
  "x": {"datum": 11.3715, "type": "quantitative", "title": null, "scale": {"domain": [10.23, 11.3], "nice": false, "zero": false}},
  "y": {"field": "v", "type": "quantitative", "scale": {"domain": [-9.43, 13.51], "nice": false, "zero": false}, "axis": null},
  "text": {"field": "txt"}
 }},
{"data": {"name": "one"},
 "mark": {"type": "rule", "color": "#222222", "strokeWidth": 1.5},
 "encoding": {
  "x": {"datum": 10.2245, "type": "quantitative", "title": null, "scale": {"domain": [10.23, 11.3], "nice": false, "zero": false}},
  "y": {"datum": -0.02, "type": "quantitative", "scale": {"domain": [-3.512, 5.029], "nice": false, "zero": false}, "axis": null},
  "y2": {"datum": -3.512}
 }},
{"data": {"name": "one"},
 "mark": {"type": "rule", "color": "#222222", "strokeWidth": 2},
 "encoding": {
  "x": {"datum": 10.2245, "type": "quantitative", "title": null, "scale": {"domain": [10.23, 11.3], "nice": false, "zero": false}},
  "x2": {"datum": 10.2268},
  "y": {"datum": -0.02, "type": "quantitative", "scale": {"domain": [-3.512, 5.029], "nice": false, "zero": false}, "axis": null}
 }}
]
}
